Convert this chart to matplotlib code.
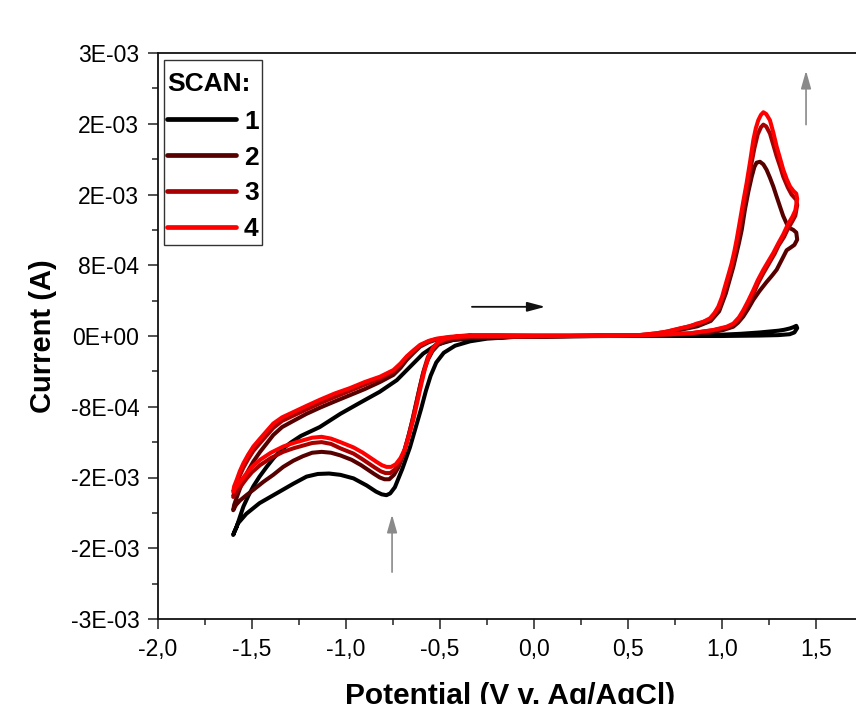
import matplotlib
matplotlib.use("Agg")
import matplotlib.pyplot as plt
import numpy as np

plt.rcParams['font.family'] = ['Liberation Sans', 'DejaVu Sans']

# ---------------- data (potential in V, current in mA) ----------------
scan1_v = [-0.34, -0.2, 0.0, 0.2, 0.4, 0.6, 0.8, 0.9, 1.0, 1.1, 1.2, 1.25, 1.3, 1.33, 1.36, 1.38, 1.395,
           1.40, 1.385, 1.36, 1.3, 1.2, 1.0, 0.7, 0.4, 0.1, -0.1, -0.25,
           -0.34, -0.42, -0.48, -0.52, -0.55, -0.575, -0.60, -0.63, -0.66, -0.70, -0.74, -0.765, -0.785,
           -0.81, -0.84, -0.89, -0.96, -1.03, -1.09, -1.15, -1.21, -1.28, -1.37, -1.46, -1.53, -1.575, -1.60,
           -1.595, -1.582, -1.565, -1.546, -1.52, -1.493, -1.46, -1.422, -1.385, -1.34, -1.29, -1.24,
           -1.14, -1.03, -0.93, -0.82, -0.73, -0.66, -0.59, -0.52, -0.43, -0.34]
scan1_i = [-0.03, -0.015, -0.005, 0.0, 0.0, 0.0, 0.005, 0.01, 0.015, 0.025, 0.04, 0.05, 0.06, 0.07, 0.085, 0.10, 0.115,
           0.09, 0.04, 0.02, 0.01, 0.005, 0.0, 0.0, 0.0, -0.005, -0.01, -0.03,
           -0.06, -0.11, -0.19, -0.30, -0.45, -0.62, -0.82, -1.04, -1.26, -1.50, -1.71, -1.78, -1.80,
           -1.79, -1.76, -1.69, -1.61, -1.57, -1.555, -1.56, -1.59, -1.67, -1.78, -1.89, -2.01, -2.12, -2.25,
           -2.22, -2.16, -2.05, -1.93, -1.81, -1.70, -1.59, -1.48, -1.38, -1.28, -1.20, -1.13,
           -1.03, -0.88, -0.76, -0.63, -0.50, -0.35, -0.20, -0.10, -0.045, -0.03]

scan2_v = [-0.34, -0.2, 0.0, 0.3, 0.56, 0.65, 0.71, 0.78, 0.87, 0.94, 0.985, 1.02, 1.06, 1.09, 1.105, 1.122,
           1.14, 1.158, 1.172, 1.184, 1.202, 1.22, 1.237, 1.255, 1.273, 1.29, 1.309, 1.325, 1.344, 1.36,
           1.379, 1.395,
           1.40, 1.385, 1.365, 1.344, 1.32, 1.291, 1.265, 1.237, 1.20, 1.167, 1.14, 1.113, 1.085, 1.06,
           1.007, 0.918, 0.7, 0.3, -0.1, -0.34,
           -0.42, -0.47, -0.51, -0.54, -0.565, -0.59, -0.61, -0.63, -0.65, -0.67, -0.695, -0.72, -0.745,
           -0.77, -0.795, -0.82, -0.85, -0.885, -0.92, -0.97, -1.03, -1.08, -1.13, -1.18, -1.23, -1.28,
           -1.334, -1.387, -1.44, -1.493, -1.53, -1.564, -1.585, -1.60,
           -1.595, -1.582, -1.565, -1.546, -1.52, -1.493, -1.457, -1.42, -1.387, -1.34, -1.28, -1.21,
           -1.138, -1.06, -0.98, -0.90, -0.819, -0.748, -0.71, -0.677, -0.64, -0.606, -0.56, -0.518,
           -0.45, -0.34]
scan2_i = [0.0, 0.0, 0.0, 0.0, 0.005, 0.02, 0.04, 0.07, 0.11, 0.17, 0.28, 0.48, 0.78, 1.05, 1.20, 1.43,
           1.63, 1.80, 1.91, 1.96, 1.97, 1.94, 1.88, 1.79, 1.69, 1.58, 1.46, 1.36, 1.27, 1.22,
           1.20, 1.17,
           1.09, 1.03, 1.00, 0.97, 0.87, 0.75, 0.68, 0.61, 0.51, 0.41, 0.31, 0.22, 0.15, 0.105,
           0.068, 0.03, 0.01, 0.0, -0.01, -0.02,
           -0.04, -0.06, -0.10, -0.17, -0.27, -0.42, -0.60, -0.79, -0.98, -1.15, -1.34, -1.48, -1.57,
           -1.62, -1.62, -1.60, -1.56, -1.51, -1.46, -1.40, -1.35, -1.32, -1.31, -1.32, -1.36, -1.41,
           -1.48, -1.57, -1.65, -1.74, -1.80, -1.86, -1.91, -1.97,
           -1.91, -1.83, -1.73, -1.63, -1.52, -1.42, -1.31, -1.21, -1.12, -1.03, -0.96, -0.88,
           -0.81, -0.74, -0.67, -0.60, -0.52, -0.44, -0.36, -0.27, -0.19, -0.12, -0.07, -0.04,
           -0.02, 0.0]

scan3_v = [-0.34, -0.2, 0.0, 0.3, 0.56, 0.65, 0.71, 0.78, 0.87, 0.94, 0.985, 1.02, 1.055, 1.082, 1.10,
           1.117, 1.135, 1.155, 1.172, 1.19, 1.207, 1.22, 1.235, 1.255, 1.273, 1.291, 1.31, 1.326, 1.35,
           1.37, 1.395,
           1.40, 1.39, 1.375, 1.35, 1.33, 1.30, 1.28, 1.25, 1.22, 1.19, 1.17, 1.14, 1.115, 1.09, 1.06,
           1.03, 0.954, 0.83, 0.6, 0.2, -0.1, -0.34,
           -0.42, -0.47, -0.51, -0.54, -0.565, -0.585, -0.605, -0.625, -0.645, -0.665, -0.69, -0.715,
           -0.74, -0.765, -0.79, -0.815, -0.845, -0.88, -0.915, -0.96, -1.03, -1.08, -1.13, -1.18,
           -1.23, -1.28, -1.334, -1.40, -1.457, -1.50, -1.528, -1.56, -1.582, -1.60,
           -1.595, -1.582, -1.565, -1.546, -1.52, -1.493, -1.457, -1.42, -1.387, -1.34, -1.28, -1.21,
           -1.138, -1.06, -0.98, -0.90, -0.819, -0.748, -0.71, -0.677, -0.64, -0.606, -0.56, -0.518,
           -0.45, -0.34]
scan3_i = [0.005, 0.005, 0.005, 0.005, 0.01, 0.03, 0.05, 0.085, 0.135, 0.19, 0.32, 0.54, 0.80, 1.07, 1.28,
           1.48, 1.68, 1.93, 2.12, 2.28, 2.36, 2.39, 2.37, 2.29, 2.16, 2.03, 1.91, 1.80, 1.68,
           1.60, 1.54,
           1.48, 1.36, 1.30, 1.21, 1.12, 1.02, 0.93, 0.82, 0.71, 0.59, 0.49, 0.37, 0.27, 0.19, 0.13,
           0.10, 0.065, 0.03, 0.01, 0.0, -0.005, -0.01,
           -0.02, -0.04, -0.08, -0.14, -0.24, -0.38, -0.56, -0.75, -0.94, -1.11, -1.30, -1.43,
           -1.51, -1.55, -1.55, -1.53, -1.49, -1.44, -1.39, -1.33, -1.27, -1.22, -1.20, -1.21,
           -1.24, -1.27, -1.31, -1.38, -1.46, -1.54, -1.61, -1.70, -1.76, -1.82,
           -1.76, -1.68, -1.58, -1.49, -1.39, -1.30, -1.21, -1.12, -1.04, -0.96, -0.90, -0.83,
           -0.76, -0.69, -0.62, -0.55, -0.48, -0.40, -0.32, -0.24, -0.17, -0.11, -0.06, -0.035,
           -0.015, 0.005]

scan4_v = [-0.34, -0.2, 0.0, 0.3, 0.56, 0.65, 0.706, 0.777, 0.83, 0.865, 0.90, 0.936, 0.96, 0.98, 1.0,
           1.016, 1.035, 1.051, 1.065, 1.078, 1.096, 1.113, 1.131, 1.15, 1.167, 1.18, 1.193, 1.207, 1.22,
           1.235, 1.255, 1.273, 1.291, 1.31, 1.326, 1.345, 1.362, 1.38, 1.395,
           1.40, 1.39, 1.375, 1.35, 1.326, 1.30, 1.273, 1.245, 1.22, 1.19, 1.167, 1.14, 1.113, 1.09, 1.06,
           1.025, 0.954, 0.83, 0.6, 0.2, -0.1, -0.34,
           -0.42, -0.47, -0.51, -0.535, -0.56, -0.58, -0.60, -0.62, -0.64, -0.66, -0.685, -0.71, -0.735,
           -0.76, -0.785, -0.81, -0.84, -0.875, -0.91, -0.96, -1.03, -1.08, -1.13, -1.18, -1.23, -1.28,
           -1.334, -1.40, -1.457, -1.50, -1.528, -1.56, -1.582, -1.60,
           -1.595, -1.582, -1.565, -1.546, -1.52, -1.493, -1.457, -1.42, -1.387, -1.34, -1.28, -1.21,
           -1.138, -1.06, -0.98, -0.90, -0.819, -0.748, -0.71, -0.677, -0.64, -0.606, -0.56, -0.518,
           -0.45, -0.34]
scan4_i = [0.01, 0.01, 0.005, 0.005, 0.01, 0.03, 0.05, 0.087, 0.11, 0.14, 0.16, 0.20, 0.26, 0.33, 0.44,
           0.56, 0.70, 0.82, 0.95, 1.09, 1.31, 1.52, 1.73, 1.98, 2.22, 2.35, 2.44, 2.50, 2.53,
           2.51, 2.44, 2.30, 2.14, 2.00, 1.88, 1.77, 1.69, 1.64, 1.61,
           1.55, 1.42, 1.35, 1.26, 1.15, 1.05, 0.94, 0.84, 0.75, 0.63, 0.52, 0.40, 0.29, 0.21, 0.14,
           0.105, 0.068, 0.03, 0.01, 0.0, -0.005, 0.0,
           -0.01, -0.03, -0.07, -0.13, -0.23, -0.37, -0.55, -0.74, -0.93, -1.09, -1.27, -1.38, -1.45,
           -1.48, -1.48, -1.46, -1.42, -1.37, -1.32, -1.26, -1.20, -1.16, -1.14, -1.15, -1.18, -1.21,
           -1.25, -1.32, -1.40, -1.48, -1.55, -1.64, -1.70, -1.76,
           -1.70, -1.63, -1.53, -1.44, -1.34, -1.25, -1.16, -1.07, -0.99, -0.92, -0.86, -0.79,
           -0.72, -0.65, -0.59, -0.52, -0.46, -0.385, -0.31, -0.23, -0.16, -0.10, -0.055, -0.03,
           -0.01, 0.01]

scan_labels = ['1', '2', '3', '4']
scan_colors = ['#000000', '#560000', '#a80000', '#ff0000']

xticks = [-2.0, -1.5, -1.0, -0.5, 0.0, 0.5, 1.0, 1.5]
xtick_labels = ['-2,0', '-1,5', '-1,0', '-0,5', '0,0', '0,5', '1,0', '1,5']
yticks = [-0.0032, -0.0024, -0.0016, -0.0008, 0.0, 0.0008, 0.0016, 0.0024, 0.0032]
ytick_labels = ['-3E-03', '-2E-03', '-2E-03', '-8E-04', '0E+00', '8E-04', '2E-03', '2E-03', '3E-03']

# ---------------- figure ----------------
W, H = 856, 704
fig = plt.figure(figsize=(W / 100, H / 100), dpi=100)
L, R, T, B = 158, 863, 53, 619
ax = fig.add_axes([L / W, (H - B) / H, (R - L) / W, (B - T) / H])

scans = [(scan1_v, scan1_i), (scan2_v, scan2_i), (scan3_v, scan3_i), (scan4_v, scan4_i)]
handles = []
for (v, i), lab, col in zip(scans, scan_labels, scan_colors):
    h, = ax.plot(v, np.array(i) * 1e-3, color=col, lw=2.9, label=lab,
                 solid_joinstyle='round', solid_capstyle='round')
    handles.append(h)

ax.set_xlim(-2.0, 1.75)
ax.set_ylim(-0.0032, 0.0032)
ax.set_xticks(xticks)
ax.set_xticklabels(xtick_labels)
ax.set_yticks(yticks)
ax.set_yticklabels(ytick_labels)
ax.set_xticks(np.arange(-1.75, 1.76, 0.5), minor=True)
ax.set_yticks(np.arange(-0.0028, 0.0029, 0.0008), minor=True)

ax.tick_params(axis='both', which='major', direction='out', length=7.5, width=1.1,
               labelsize=16.5, pad=6, color='#222222')
ax.tick_params(axis='both', which='minor', direction='out', length=4, width=1.1, color='#222222')
ax.tick_params(axis='x', which='both', top=False)
ax.tick_params(axis='y', which='both', right=False)
for s in ['left', 'bottom', 'top']:
    ax.spines[s].set_linewidth(1.3)
    ax.spines[s].set_color('#111111')
ax.spines['right'].set_visible(False)

ax.set_xlabel('Potential (V v. Ag/AgCl)', fontsize=21.5, fontweight='bold')
ax.set_ylabel('Current (A)', fontsize=21, fontweight='bold')
ax.xaxis.set_label_coords(0.5, (B - 682) / (B - T))
ax.xaxis.label.set_va('top')
ax.yaxis.set_label_coords((57 - L) / (R - L), 0.5)

# arrows
ax.annotate('', xy=(0.06, 0.00033), xytext=(-0.33, 0.00033),
            arrowprops=dict(arrowstyle='-|>,head_length=0.6,head_width=0.16', color='#111111',
                            lw=1.3, mutation_scale=18, shrinkA=0, shrinkB=0))
ax.annotate('', xy=(1.447, 0.00300), xytext=(1.447, 0.00239),
            arrowprops=dict(arrowstyle='-|>,head_length=0.6,head_width=0.17', color='#8a8a8a',
                            lw=1.2, mutation_scale=18, shrinkA=0, shrinkB=0))
ax.annotate('', xy=(-0.755, -0.00202), xytext=(-0.755, -0.00267),
            arrowprops=dict(arrowstyle='-|>,head_length=0.6,head_width=0.17', color='#8a8a8a',
                            lw=1.2, mutation_scale=18, shrinkA=0, shrinkB=0))

leg = ax.legend(handles=handles, labels=scan_labels, title='SCAN:', loc='upper left',
                bbox_to_anchor=(6 / (R - L), 1 - 7 / (B - T)), borderaxespad=0,
                prop={'weight': 'bold', 'size': 19},
                title_fontproperties={'weight': 'bold', 'size': 19},
                handlelength=2.6, handletextpad=0.3, labelspacing=0.45,
                borderpad=0.13, fancybox=False, framealpha=1, edgecolor='#333333',
                alignment='left')
leg.get_frame().set_linewidth(1.0)
for lh in leg.get_lines():
    lh.set_linewidth(3.4)
# extra space between title and entries, and nudge the title down inside the frame
leg._legend_box.sep = 16.0
leg.get_title().set_y(-9)

fig.savefig('out.png', dpi=100)
